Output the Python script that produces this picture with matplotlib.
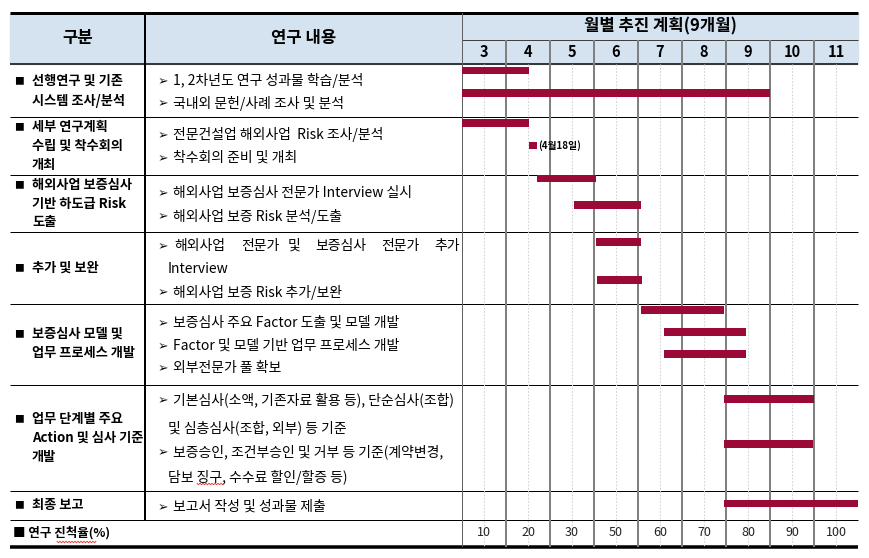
import matplotlib
matplotlib.use("Agg")
import matplotlib.pyplot as plt
import numpy as np
from matplotlib.patches import Rectangle

plt.rcParams['font.family'] = ['Noto Sans CJK KR', 'DejaVu Sans']

# ---------------- data ----------------
header_group = "구분"
header_content = "연구 내용"
header_plan = "월별 추진 계획(9개월)"
months = [3, 4, 5, 6, 7, 8, 9, 10, 11]
progress = [10, 20, 30, 50, 60, 70, 80, 90, 100]
progress_label = "■ 연구 진척율(%)"

categories = [
    ["선행연구 및 기존", "시스템 조사/분석"],
    ["세부 연구계획", "수립 및 착수회의", "개최"],
    ["해외사업 보증심사", "기반 하도급 Risk", "도출"],
    ["추가 및 보완"],
    ["보증심사 모델 및", "업무 프로세스 개발"],
    ["업무 단계별 주요", "Action 및 심사 기준", "개발"],
    ["최종 보고"],
]

content_lines = [
    "1, 2차년도 연구 성과물 학습/분석",
    "국내외 문헌/사례 조사 및 분석",
    "전문건설업 해외사업  Risk 조사/분석",
    "착수회의 준비 및 개최",
    "해외사업 보증심사 전문가 Interview 실시",
    "해외사업 보증 Risk 분석/도출",
    "해외사업 전문가 및 보증심사 전문가 추가",   # justified line
    "Interview",
    "해외사업 보증 Risk 추가/보완",
    "보증심사 주요 Factor 도출 및 모델 개발",
    "Factor 및 모델 기반 업무 프로세스 개발",
    "외부전문가 풀 확보",
    "기본심사(소액, 기존자료 활용 등), 단순심사(조합)",
    "및 심층심사(조합, 외부) 등 기준",
    "보증승인, 조건부승인 및 거부 등 기준(계약변경,",
    "담보 징구, 수수료 할인/할증 등)",
    "보고서 작성 및 성과물 제출",
]
content_has_arrow = [1, 1, 1, 1, 1, 1, 1, 0, 1, 1, 1, 1, 1, 0, 1, 0, 1]
justified_index = 6

# bars in month units (month m spans [m, m+1])
bar_start = [3.0, 3.0, 3.0, 4.52, 4.70, 5.55, 6.05, 6.07, 7.07, 7.59, 7.59, 8.95, 8.95, 8.95]
bar_end   = [4.52, 10.0, 4.52, 4.70, 6.05, 7.07, 7.07, 7.09, 8.95, 9.45, 9.45, 11.0, 10.98, 12.0]
milestone_label = "(4월18일)"

# ---------------- layout (pixels) ----------------
W, H = 870, 558
X0, X1, X2, XR = 10, 145, 462, 858
Y_TOP, Y_SUB, Y_HEAD, Y_PROG, Y_BOT = 13, 40, 64, 520, 547
row_lines = [117, 175, 232, 304, 385, 491, 520]
cat_y = [[81, 101], [127, 146, 165], [185, 204, 222], [268], [334, 353], [419, 438, 457], [505]]
content_y = [81, 103, 135, 158, 193, 216, 246, 269, 292, 323, 346, 368, 400, 428, 452, 477, 507]
justified_x = [174, 241, 288, 315, 381, 434]
bar_y = [70.5, 93, 123, 145.5, 178.5, 205, 242, 280, 310, 332, 354, 399, 444, 503.5]
bar_h = 7.5
BAR_COLOR = '#9B0A36'
HEAD_COLOR = '#D5E2F0'
GRID_GRAY = '#808080'
BODY_FS = 10

fig = plt.figure(figsize=(W / 100, H / 100), dpi=100)
ax = fig.add_axes([0, 0, 1, 1])
ax.set_xlim(0, W)
ax.set_ylim(H, 0)
ax.axis('off')

# header background
ax.add_patch(Rectangle((X0, Y_TOP), XR - X0, Y_HEAD - Y_TOP, color=HEAD_COLOR, zorder=0))

px = 0.72  # points per pixel
ax.hlines(Y_TOP, X0, XR, color='black', lw=3 * px, zorder=3)
ax.hlines(Y_HEAD, X0, XR, color='black', lw=1.5 * px, zorder=3)
ax.hlines(row_lines, X0, XR, color='black', lw=1 * px, zorder=3)
ax.hlines(Y_BOT, X0, XR, color='black', lw=3.5 * px, zorder=3)
ax.hlines(Y_SUB, X2, XR, color='#404040', lw=1 * px, zorder=3)
ax.vlines(X1, Y_TOP, Y_PROG, color='black', lw=2 * px, zorder=3)

# header texts
ax.text((X0 + X1) / 2, (Y_TOP + Y_HEAD) / 2, header_group, ha='center', va='center',
        fontsize=12, fontweight='bold')
ax.text((X1 + X2) / 2, (Y_TOP + Y_HEAD) / 2, header_content, ha='center', va='center',
        fontsize=12, fontweight='bold')
ax.text((X2 + XR) / 2, (Y_TOP + Y_SUB) / 2, header_plan, ha='center', va='center',
        fontsize=12, fontweight='bold')

# category column
for lines, ys in zip(categories, cat_y):
    ax.text(19, ys[0], "■", ha='center', va='center', fontsize=7)
    for t, y in zip(lines, ys):
        ax.text(32, y, t, ha='left', va='center', fontsize=9.5, fontweight='bold')

# content column
for i, (t, y, arrow) in enumerate(zip(content_lines, content_y, content_has_arrow)):
    if arrow:
        ax.text(163, y + 0.5, "➢", ha='center', va='center', fontsize=9,
                family=['DejaVu Sans'], color='#111111')
    if i == justified_index:
        for w, xw in zip(t.split(), justified_x):
            ax.text(xw, y, w, ha='left', va='center', fontsize=BODY_FS,
                    clip_on=True)
    elif arrow:
        ax.text(173, y, t, ha='left', va='center', fontsize=BODY_FS)
    else:
        ax.text(168, y, t, ha='left', va='center', fontsize=BODY_FS)

ax.text(13, 533, progress_label, ha='left', va='center', fontsize=9, fontweight='bold')

# spell-check squiggles (decoration of the source document)
def squiggle(xa, xb, y):
    xs = np.arange(xa, xb + 0.1, 1.5)
    ys = y + np.where(np.arange(len(xs)) % 2 == 0, -0.8, 0.8)
    ax.plot(xs, ys, color='#e03030', lw=0.6, zorder=5)

squiggle(197, 224, 484)
squiggle(57, 97, 542)

# ---------------- gantt axes ----------------
gx = fig.add_axes([X2 / W, 1 - Y_BOT / H, (XR - X2) / W, (Y_BOT - Y_TOP) / H])
gx.set_xlim(months[0], months[-1] + 1)
gx.set_ylim(Y_BOT, Y_TOP)
gx.axis('off')
gx.patch.set_visible(False)

mid = [m + 0.5 for m in months]
gx.vlines(mid, Y_HEAD, Y_BOT, color='#d4d4d4', lw=0.8, linestyles=(0, (1.5, 1.5)), zorder=1)
gx.vlines(months[1:], Y_SUB, Y_BOT, color=GRID_GRAY, lw=2 * px, zorder=2)
gx.vlines(months[0], Y_TOP, Y_BOT, color='#606060', lw=2 * px, zorder=2)

widths = [e - s for s, e in zip(bar_start, bar_end)]
gx.barh(bar_y, widths, left=bar_start, height=bar_h, color=BAR_COLOR, zorder=4)
gx.text(bar_end[3] + 0.03, bar_y[3], milestone_label, ha='left', va='center',
        fontsize=7, fontweight='bold')

for m in months:
    gx.text(m + 0.5, (Y_SUB + Y_HEAD) / 2, str(m), ha='center', va='center',
            fontsize=10.5, fontweight='bold')
for m, p in zip(months, progress):
    gx.text(m + 0.5, 533, str(p), ha='center', va='center', fontsize=9, color='#222222')

fig.savefig("out.png", dpi=100)
